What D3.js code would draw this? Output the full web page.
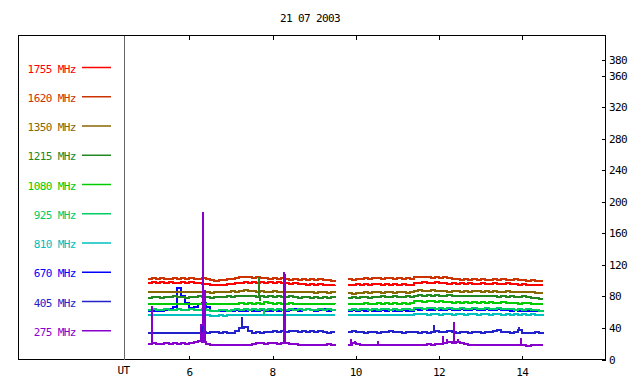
<!DOCTYPE html>
<html lang="en">
<head>
  <meta charset="UTF-8">
  <title>21 07 2003</title>
  <script src="https://d3js.org/d3.v7.min.js"></script>
</head>
<style>
  body {
    margin: 0;
    background: white;
  }
  text {
    font-family: "DejaVu Sans Mono", monospace;
    font-size: 11px;
    letter-spacing: -0.6px;
  }
  .trace {
    fill: none;
    stroke-width: 2px;
    shape-rendering: crispEdges;
  }
  .frame {
    fill: none;
    stroke: black;
    stroke-width: 1px;
    shape-rendering: crispEdges;
  }
</style>
<body>
<svg id="chart" width="640" height="384"></svg>

<script>
  // Legend order, top to bottom.
  let freqs = ["1755", "1620", "1350", "1215", "1080", "925", "810", "670", "405", "275"];
  let colors = ["#ff0000", "#cc3300", "#886600", "#228822", "#00cc00", "#00cc66", "#00c0c0", "#0000ff", "#2222cc", "#8800cc"];

  // Two recording runs, one sample every 0.1 h (UT).
  let run1Start = 5.0, run2Start = 9.8, sampleStep = 0.1;

  let mhz1755a = [97,98,97,98,97,98,97,97,98,97,98,97,97,96,96,95,95,94,95,96,96,97,97,98,97,98,97,98,97,98,97,98,97,97,96,97,96,96,95,96,95,96,95,95,94,95];
  let mhz1755b = [95,95,96,95,96,95,96,96,95,96,95,96,95,96,95,95,97,97,98,97,97,98,97,97,96,97,96,97,96,97,96,96,97,96,96,97,96,96,97,96,96,95,96,95,95,95,94,94];
  let mhz1620a = [102,103,102,103,102,102,103,102,103,102,103,102,102,103,102,101,100,101,101,102,102,103,104,104,104,103,104,103,103,102,103,102,103,102,101,102,101,102,101,102,101,102,101,101,100,101];
  let mhz1620b = [102,101,102,102,103,102,103,103,102,103,103,102,103,102,103,102,104,105,104,104,103,104,103,104,103,102,102,101,102,101,102,101,102,101,101,102,101,102,101,101,102,101,101,100,101,100,99,99];
  let mhz1350a = [85,86,85,86,86,85,86,85,86,86,85,86,85,86,85,84,85,85,86,86,87,86,87,88,87,87,86,87,86,86,87,86,86,85,86,85,85,86,85,85,84,85,85,84,85,84];
  let mhz1350b = [84,83,84,84,85,84,85,85,84,85,85,84,85,85,84,85,87,88,87,87,88,87,87,87,86,87,87,86,87,86,87,87,86,87,86,87,86,86,87,86,86,86,85,86,85,84,84,84];
  let mhz1215a = [78,79,79,78,79,79,80,79,79,78,79,79,80,79,79,78,79,79,79,80,79,80,80,81,80,80,79,80,79,80,79,80,79,79,80,79,78,79,79,78,79,78,79,78,79,78];
  let mhz1215b = [78,79,78,79,79,78,79,79,80,79,79,80,79,79,80,79,81,82,81,82,81,82,81,81,82,81,81,80,81,80,81,80,80,81,80,80,79,80,79,80,79,79,80,79,78,78,77,77];
  let mhz1080a = [70,71,70,70,71,70,71,70,71,71,70,71,70,71,70,70,70,71,71,70,71,71,72,71,72,71,72,71,73,72,71,72,71,71,72,71,71,70,71,71,70,71,71,70,71,70];
  let mhz1080b = [71,70,71,71,72,71,71,72,71,72,71,72,71,72,71,72,74,74,73,74,74,73,74,73,73,72,73,72,73,72,73,72,73,72,73,72,72,73,72,72,72,71,72,72,71,70,70,70];
  let mhz925a = [63,64,63,63,64,63,63,64,63,63,64,63,63,64,63,62,62,63,63,62,63,64,63,64,63,64,63,64,63,64,63,64,63,63,64,63,64,63,64,63,63,64,63,64,63,64];
  let mhz925b = [63,64,63,64,64,63,64,63,64,64,63,64,63,64,64,63,65,65,64,65,65,64,65,64,65,64,64,65,64,64,65,64,64,65,64,64,65,64,64,64,63,64,63,64,63,63,62,63];
  let mhz810a = [56,57,56,57,56,57,57,56,57,56,57,56,57,56,57,55,55,56,55,56,56,56,57,56,56,57,56,56,57,56,56,57,56,56,57,56,56,56,57,56,56,56,57,56,56,56];
  let mhz810b = [56,56,57,56,56,57,56,57,56,57,56,57,56,57,56,57,58,58,58,57,58,58,57,58,58,57,58,58,57,58,58,57,58,58,57,58,58,57,58,57,58,57,58,57,58,57,57,58];
  let mhz670a = [62,61,62,62,63,64,67,91,80,72,65,67,71,72,66,62,61,62,62,61,62,63,62,62,63,62,62,63,62,62,63,62,63,62,63,64,62,63,64,63,62,63,64,62,63,63];
  let mhz670b = [62,63,62,63,62,63,62,62,63,62,63,62,62,63,62,62,64,63,64,63,63,64,63,63,64,63,63,64,63,63,64,63,63,64,63,63,64,63,63,62,63,61,62,61,62,61,62,62];
  let mhz405a = [34,34,33,34,34,33,34,33,33,34,33,34,34,35,34,35,35,34,35,34,34,36,40,41,36,34,35,34,35,35,36,35,36,35,36,36,35,36,35,36,35,36,35,34,35,35];
  let mhz405b = [35,36,35,35,34,35,35,34,35,35,36,35,35,34,35,35,35,34,35,34,35,36,35,35,36,35,34,35,35,34,35,35,34,35,35,36,37,35,35,34,35,37,33,33,34,35,34,35];
  let mhz275a = [20,21,20,20,21,20,21,20,21,20,21,22,23,22,20,19,19,18,19,18,19,18,19,18,19,20,21,21,20,21,21,20,21,21,20,20,19,19,18,19,18,19,19,20,19,20];
  let mhz275b = [19,21,20,19,19,18,19,18,18,19,18,18,18,19,18,18,19,19,19,20,19,20,20,21,22,21,22,21,20,19,19,18,19,18,19,18,19,19,18,19,18,19,18,17,18,18,19,19];

  // Short bursts: [frequency, hour UT, peak value].
  let spikes = [
    ["275", 5.1, 68], ["275", 6.27, 42], ["275", 6.29, 45], ["275", 6.32, 187], ["275", 6.38, 88],
    ["275", 8.27, 111], ["275", 8.29, 108], ["275", 9.88, 26], ["275", 9.98, 24], ["275", 10.53, 24],
    ["275", 12.09, 30], ["275", 12.19, 26], ["275", 12.36, 47], ["275", 12.45, 26], ["275", 13.96, 27],
    ["405", 6.31, 42], ["405", 7.26, 54], ["405", 7.33, 43], ["405", 11.88, 44], ["405", 13.92, 41],
    ["670", 5.72, 92], ["1215", 7.67, 104], ["1215", 7.69, 74], ["925", 7.8, 56]
  ];

  let xTicks = [6, 8, 10, 12, 14];
  let yTicks = [0, 40, 80, 120, 160, 200, 240, 280, 320, 360, 380];

  let runs = {
    "1755": [mhz1755a, mhz1755b], "1620": [mhz1620a, mhz1620b], "1350": [mhz1350a, mhz1350b],
    "1215": [mhz1215a, mhz1215b], "1080": [mhz1080a, mhz1080b], "925": [mhz925a, mhz925b],
    "810": [mhz810a, mhz810b], "670": [mhz670a, mhz670b], "405": [mhz405a, mhz405b], "275": [mhz275a, mhz275b]
  };
  let color = d3.scaleOrdinal().domain(freqs).range(colors);

  let svg = d3.select("#chart");

  let frameL = 18.5, frameR = 605.5, frameT = 35.5, frameB = 359.5;
  let x = d3.scaleLinear().domain([4.44, 16]).range([124.5, frameR]);
  let y = d3.scaleLinear().domain([0, 410.8]).range([frameB, frameT]);

  // Title.
  svg.append("text").attr("x", 310).attr("y", 22).attr("text-anchor", "middle").text("21 07 2003");

  // Frame and the UT divider.
  svg.append("rect").attr("class", "frame")
          .attr("x", frameL).attr("y", frameT).attr("width", frameR - frameL).attr("height", frameB - frameT);
  svg.append("line").attr("x1", 124.5).attr("x2", 124.5).attr("y1", frameT).attr("y2", frameB)
          .attr("stroke", "#666").attr("shape-rendering", "crispEdges");

  // Time ticks on top and bottom edges.
  let ticks = svg.append("g").attr("stroke", "black").attr("shape-rendering", "crispEdges");
  xTicks.forEach(h => {
    let px = Math.round(x(h)) + 0.5;
    ticks.append("line").attr("x1", px).attr("x2", px).attr("y1", frameT).attr("y2", frameT + 4);
    ticks.append("line").attr("x1", px).attr("x2", px).attr("y1", frameB).attr("y2", frameB - 4);
  });
  svg.append("g").selectAll("text").data(xTicks).join("text")
          .attr("x", d => x(d)).attr("y", 376).attr("text-anchor", "middle").text(d => d);
  svg.append("text").attr("x", 123.5).attr("y", 374).attr("text-anchor", "middle").text("UT");

  // Right value axis, ticks pointing inward.
  yTicks.forEach(v => {
    let py = Math.round(y(v)) + 0.5;
    ticks.append("line").attr("x1", frameR - 4).attr("x2", frameR).attr("y1", py).attr("y2", py);
  });
  svg.append("g").selectAll("text").data(yTicks).join("text")
          .attr("x", 609).attr("y", d => y(d) + 4).text(d => d);

  // Legend.
  let legend = svg.append("g").selectAll("g").data(freqs).join("g")
          .attr("transform", (d, i) => "translate(0," + (67 + i * 29.25) + ")");
  legend.append("text").attr("x", 75.8).attr("y", 5.5).attr("text-anchor", "end")
          .attr("fill", d => color(d)).text(d => d + " MHz");
  legend.append("line").attr("x1", 82).attr("x2", 111).attr("y1", 0.5).attr("y2", 0.5)
          .attr("stroke", d => color(d)).attr("stroke-width", 1.5);

  // Traces, lowest-priority first so the spikes sit on top.
  let line = d3.line().x(d => x(d[0])).y(d => y(d[1])).curve(d3.curveStepAfter);
  let drawOrder = ["670", "275", "405", "810", "925", "1080", "1215", "1350", "1620", "1755"];
  let traces = svg.append("g");
  drawOrder.forEach(f => {
    [run1Start, run2Start].forEach((start, r) => {
      let pts = runs[f][r].map((v, i) => [start + i * sampleStep, v]);
      traces.append("path").attr("class", "trace").attr("stroke", color(f)).attr("d", line(pts));
    });
  });

  // Spikes: vertical strokes from the trace level up to the peak.
  function baseAt(f, h) {
    let r = h < run2Start ? 0 : 1;
    let start = r == 0 ? run1Start : run2Start;
    let vals = runs[f][r];
    let i = Math.max(0, Math.min(vals.length - 1, Math.floor((h - start) / sampleStep)));
    return vals[i];
  }
  svg.append("g").selectAll("line").data(spikes).join("line")
          .attr("x1", d => Math.round(x(d[1]))).attr("x2", d => Math.round(x(d[1])))
          .attr("y1", d => y(baseAt(d[0], d[1]))).attr("y2", d => y(d[2]))
          .attr("stroke", d => color(d[0])).attr("stroke-width", 2)
          .attr("shape-rendering", "crispEdges");
</script>
</body>
</html>
